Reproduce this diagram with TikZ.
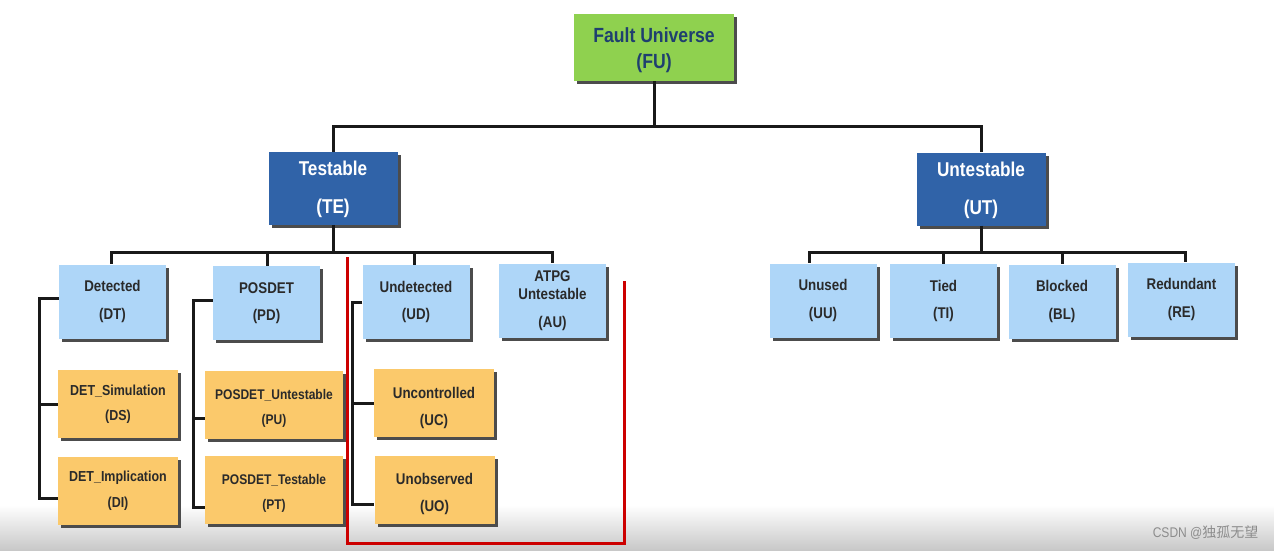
\documentclass[tikz,border=0pt]{standalone}
\usepackage{fontspec}
\setmainfont{Liberation Sans}[FakeStretch=0.86]
\newfontfamily\cjkfont{Noto Sans CJK SC}
\usetikzlibrary{shadows,calc}
\definecolor{fugreen}{HTML}{8FD14F}
\definecolor{fublue}{HTML}{1F3F6F}
\definecolor{teblue}{HTML}{3063A8}
\definecolor{lblue}{HTML}{AED6F8}
\definecolor{lorange}{HTML}{FBC96B}
\definecolor{txtgray}{HTML}{2A2A2A}
\definecolor{redline}{HTML}{CC0000}
\newcommand{\fsA}{\fontsize{20.5}{26}\selectfont}
\newcommand{\fsB}{\fontsize{20}{38}\selectfont}
\newcommand{\fsC}{\fontsize{15.5}{27.5}\selectfont}
\newcommand{\fsD}{\fontsize{14.5}{25.5}\selectfont}
\newcommand{\fsE}{\fontsize{15.5}{18}\selectfont}
\newcommand{\fsF}{\fontsize{14}{25}\selectfont}
\newcommand{\fsG}{\fontsize{15.5}{27}\selectfont}
\newcommand{\dn}[1]{\rule{0pt}{#1}}
\tikzset{
  box/.style={rectangle, inner sep=0pt, align=center,
    drop shadow={shadow xshift=3pt, shadow yshift=-3pt, fill=black!70, opacity=1}},
  topbox/.style={box, fill=fugreen, text=fublue, font=\bfseries\fsA, minimum width=160pt, minimum height=67pt},
  midbox/.style={box, fill=teblue, text=white, font=\bfseries\fsB, minimum width=129pt, minimum height=73pt},
  lvbox/.style={box, fill=lblue, text=txtgray, font=\bfseries\fsC, minimum width=107pt, minimum height=74pt},
  orbox/.style={box, fill=lorange, text=txtgray, font=\bfseries\fsD, minimum width=120pt, minimum height=68pt},
  conn/.style={line width=3pt, draw=black!90},
}
\begin{document}
\begin{tikzpicture}[x=1pt,y=-1pt]
\useasboundingbox (0,0) rectangle (1274,551);
\fill[white] (0,0) rectangle (1274,551);
\shade[top color=white, bottom color=black!22] (0,505) rectangle (1274,551);
% nodes
\node[topbox] (FU) at (654,47.5) {\dn{20.7pt}Fault Universe\\(FU)};
\node[midbox] (TE) at (333,188.5) {\dn{16.5pt}Testable\\(TE)};
\node[midbox] (UT) at (981,189) {\dn{16.5pt}Untestable\\(UT)};
\node[lvbox] (DT) at (112.5,301.5) {Detected\\(DT)};
\node[lvbox] (PD) at (266.5,303) {POSDET\\(PD)};
\node[lvbox] (UD) at (416,302) {Undetected\\(UD)};
\node[lvbox, font=\bfseries\fsE] (AU) at (552.5,300.5) {ATPG\\Untestable\\[10pt](AU)};
\node[lvbox] (UU) at (823,300.5) {Unused\\(UU)};
\node[lvbox] (TI) at (943.5,301) {Tied\\(TI)};
\node[lvbox] (BL) at (1062,301.5) {Blocked\\(BL)};
\node[lvbox] (RE) at (1181.5,299.5) {Redundant\\(RE)};
\node[orbox] (DS) at (118,404) {DET\_Simulation\\(DS)};
\node[orbox] (DI) at (118,490.5) {DET\_Implication\\(DI)};
\node[orbox, font=\bfseries\fsF, minimum width=138pt] (PU) at (274,405) {\dn{16pt}POSDET\_Untestable\\(PU)};
\node[orbox, font=\bfseries\fsF, minimum width=138pt] (PT) at (274,490) {\dn{16pt}POSDET\_Testable\\(PT)};
\node[orbox, font=\bfseries\fsG] (UC) at (434,403) {\dn{20.5pt}Uncontrolled\\(UC)};
\node[orbox, font=\bfseries\fsG] (UO) at (434.5,490) {\dn{19.5pt}Unobserved\\(UO)};
% bus coordinates
\coordinate (b1L) at (333,126);
\coordinate (b1R) at (981,126);
\coordinate (b2L) at (111,252);
\coordinate (b2R) at (552,252);
\coordinate (b3L) at (809,252);
\coordinate (b3R) at (1185,252);
% connectors top
\draw[conn] (FU.south) -- (FU.south |- b1L);
\draw[conn, line cap=rect] (b1L) -- (b1R);
\draw[conn] (b1L) -- (TE.north);
\draw[conn] (b1R) -- (UT.north);
% testable children
\draw[conn] (TE.south) -- (TE.south |- b2L);
\draw[conn, line cap=rect] (b2L) -- (b2R);
\draw[conn] (b2L) -- (b2L |- DT.north);
\draw[conn] (267,252) -- (267,0 |- PD.north);
\draw[conn] (414,252) -- (414,0 |- UD.north);
\draw[conn] (b2R) -- (b2R |- AU.north);
% untestable children
\draw[conn] (UT.south) -- (UT.south |- b3L);
\draw[conn, line cap=rect] (b3L) -- (b3R);
\draw[conn] (b3L) -- (b3L |- UU.north);
\draw[conn] (943,252) -- (943,0 |- TI.north);
\draw[conn] (1062,252) -- (1062,0 |- BL.north);
\draw[conn] (b3R) -- (b3R |- RE.north);
% side trees
\draw[conn] ($(DT.west)+(0,-3)$) -- ++(-19,0) |- ($(DI.west)+(0,8)$);
\draw[conn] (DS.west) -- ++(-18,0);
\draw[conn] ($(PD.west)+(0,-3)$) -- ++(-19,0) |- ($(PT.west)+(0,17)$);
\draw[conn] ($(PU.west)+(0,13)$) -- ++(-11,0);
\draw[conn] (UD.west) -- ++(-10,0) |- ($(UO.west)+(0,14)$);
\draw[conn] (UC.west) -- ++(-21,0);
% red bracket
\draw[redline, line width=3pt] (347,257) -- (347,543) -- (624,543) -- (624,281);
% watermark
\node[text=black!45, font=\fontsize{14}{16}\selectfont, anchor=east] (wm) at (1262,533) {CSDN @{\cjkfont 独孤无望}};
\end{tikzpicture}
\end{document}
